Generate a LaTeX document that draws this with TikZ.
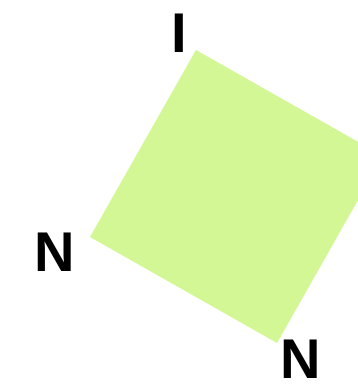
\documentclass[tikz,border=0pt]{standalone}
\usepackage{fontspec}
\setmainfont{Liberation Sans}
\usepackage{xcolor}
\definecolor{leaf}{RGB}{212,247,150}
\usepackage{tikz}
\usetikzlibrary{positioning,calc}

\tikzset{
    vertexlabel/.style={font=\fontsize{56}{60}\selectfont\bfseries, text=black, inner sep=0pt}
}

\begin{document}
\begin{tikzpicture}[x=1pt,y=1pt]
        % Cadre
        \useasboundingbox (0,0) rectangle (358,384);
        \clip (0,0) rectangle (358,384);

        % Carré tourné
        \coordinate (top) at (196,334);
        \coordinate (left) at (90,147);
        \coordinate (bottom) at (277,41);
        \coordinate (right) at (383,228);
        \fill[leaf] (top) -- (left) -- (bottom) -- (right) -- cycle;

        % Labels
        \node[vertexlabel] (labI) at (179.5,351) {I};
        \node[vertexlabel] (labNleft) at (55,131.5) {N};
        \node[vertexlabel] (labNbottom) at (301,25) {N};
    \end{tikzpicture}
\end{document}
